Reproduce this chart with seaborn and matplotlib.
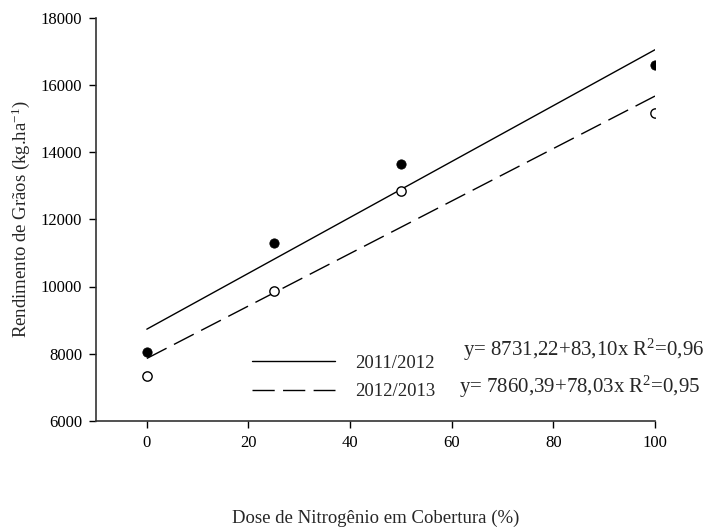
import matplotlib
matplotlib.use("Agg")
import matplotlib.pyplot as plt
import seaborn as sns
import pandas as pd
from matplotlib.lines import Line2D

# ---- data ----
doses = [0, 25, 50, 100]
y_2011 = [8050, 11300, 13640, 16600]
y_2012 = [7340, 9880, 12830, 15170]
seasons = ["2011/2012", "2012/2013"]
intercepts = [8731.22, 7860.39]
slopes = [83.10, 78.03]
eq_texts = ["y= 8731,22+83,10x R$^2$=0,96", "y= 7860,39+78,03x R$^2$=0,95"]
x_ticks = [0, 20, 40, 60, 80, 100]
y_ticks = [6000, 8000, 10000, 12000, 14000, 16000, 18000]
x_fit = [0, 100]

sns.set_theme(style="ticks")
plt.rcParams["font.family"] = ["Liberation Serif", "DejaVu Serif"]
plt.rcParams["mathtext.fontset"] = "custom"
plt.rcParams["mathtext.rm"] = "Liberation Serif"
plt.rcParams["mathtext.it"] = "Liberation Serif:italic"

fig = plt.figure(figsize=(7.08, 5.30), dpi=100)
ax = fig.add_axes([96 / 708, 1 - 421 / 530, (655 - 96) / 708, (421 - 17.5) / 530])

pts = pd.DataFrame({"dose": doses + doses,
                    "y": y_2011 + y_2012,
                    "season": [seasons[0]] * 4 + [seasons[1]] * 4})

# fitted lines from the printed regression equations
fit_rows = []
for s, a, b in zip(seasons, intercepts, slopes):
    for xv in x_fit:
        fit_rows.append({"dose": xv, "y": a + b * xv, "season": s})
fit = pd.DataFrame(fit_rows)

sns.lineplot(data=fit[fit.season == seasons[0]], x="dose", y="y", color="black",
             lw=1.0, ax=ax, legend=False)
sns.lineplot(data=fit[fit.season == seasons[1]], x="dose", y="y", color="black",
             lw=1.0, ax=ax, legend=False)
ax.lines[-1].set_dashes((16, 6))

sns.scatterplot(data=pts[pts.season == seasons[0]], x="dose", y="y", color="black",
                edgecolor="black", s=45, ax=ax, legend=False, zorder=3)
sns.scatterplot(data=pts[pts.season == seasons[1]], x="dose", y="y", color="white",
                edgecolor="black", linewidth=1.0, s=45, ax=ax, legend=False, zorder=3)

ax.set_xlim(-10, 100)
ax.set_ylim(6000, 18000)
ax.set_xticks(x_ticks)
ax.set_yticks(y_ticks)
ax.tick_params(axis="both", direction="out", length=5, width=1, labelsize=12,
               colors="black", pad=5)
for sp in ["top", "right"]:
    ax.spines[sp].set_visible(False)
for sp in ["left", "bottom"]:
    ax.spines[sp].set_color("#333333")
    ax.spines[sp].set_linewidth(1.2)

ax.set_xlabel("Dose de Nitrogênio em Cobertura (%)", fontsize=13.5, labelpad=42)
ax.set_ylabel("Rendimento de Grãos (kg.ha$^{-1}$)", fontsize=13.5, labelpad=6)

handles = [Line2D([], [], color="black", lw=1.0),
           Line2D([], [], color="black", lw=1.0, dashes=(16, 6))]
ax.legend(handles, seasons, loc="center left", frameon=False, fontsize=13.5,
          bbox_to_anchor=(252 / 708, 1 - 377.5 / 530), bbox_transform=fig.transFigure,
          borderpad=0, borderaxespad=0, handlelength=4.4, handletextpad=1.1,
          labelspacing=0.6)

ax.text(62.2, 8110, eq_texts[0], fontsize=15, va="center", ha="left")
ax.text(61.4, 7000, eq_texts[1], fontsize=15, va="center", ha="left")

fig.savefig("out.png", dpi=100)
